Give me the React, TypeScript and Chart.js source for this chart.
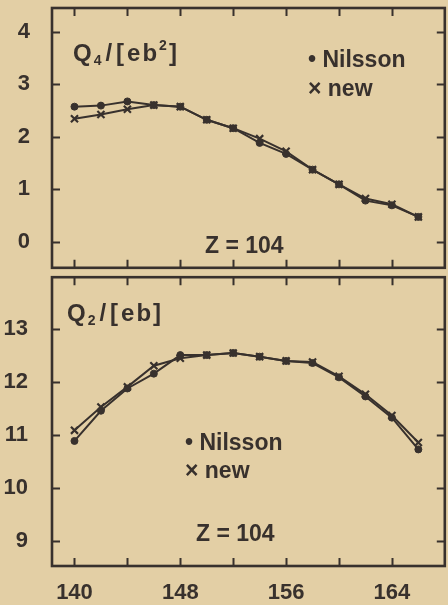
import React, { useEffect, useRef } from 'react';
import { Chart, registerables } from 'chart.js';

Chart.register(...registerables);

// ---------- data ----------
const massNumbers = [140, 142, 144, 146, 148, 150, 152, 154, 156, 158, 160, 162, 164, 166];
const q4Nilsson = [2.57, 2.59, 2.67, 2.6, 2.57, 2.32, 2.16, 1.88, 1.67, 1.37, 1.09, 0.78, 0.69, 0.47];
const q4New = [2.34, 2.42, 2.52, 2.6, 2.57, 2.32, 2.16, 1.96, 1.72, 1.37, 1.09, 0.82, 0.71, 0.47];
const q2Nilsson = [10.88, 11.45, 11.87, 12.15, 12.5, 12.5, 12.54, 12.47, 12.39, 12.35, 12.08, 11.72, 11.32, 10.72];
const q2New = [11.08, 11.52, 11.9, 12.3, 12.44, 12.5, 12.54, 12.47, 12.39, 12.37, 12.1, 11.76, 11.36, 10.85];
const xTickMarks = [140, 144, 148, 152, 156, 160, 164];
const xTickLabels = [140, 148, 156, 164];
const q4TickValues = [0, 1, 2, 3, 4];
const q2TickValues = [9, 10, 11, 12, 13];

// ---------- style ----------
const INK = '#38312d';
const PAPER = '#e3cfa5';
const FONT = "'Liberation Sans', Arial, sans-serif";
const CANVAS_W = 452;

type Annot = (ctx: CanvasRenderingContext2D) => void;

function drawQ(ctx: CanvasRenderingContext2D, x: number, base: number, sub: string, sup: string | null) {
  let cx = x;
  const put = (t: string, size: number, dy: number, gap: number) => {
    ctx.font = `bold ${size}px ${FONT}`;
    ctx.fillText(t, cx, base + dy);
    cx += ctx.measureText(t).width + gap;
  };
  put('Q', 24, 0, 2);
  put(sub, 14, 4, 4);
  put('/', 24, 0, 4);
  put('[', 24, 0, 3);
  put('e', 24, 0, 2);
  put('b', 24, 0, 2);
  if (sup) put(sup, 14, -11, 2);
  put(']', 24, 0, 0);
}

function drawText(ctx: CanvasRenderingContext2D, t: string, x: number, base: number, size = 23) {
  ctx.font = `bold ${size}px ${FONT}`;
  ctx.fillText(t, x, base);
}

function makeConfig(p: {
  nilsson: number[];
  neu: number[];
  yMin: number;
  yMax: number;
  yTicks: number[];
  showX: boolean;
  padding: { top: number; right: number; bottom: number; left: number };
  xAxisHeight: number;
  yLabelPad: number;
  annotate: Annot;
}): any {
  const tickFont = { family: FONT, size: 22, weight: 'bold' as const };
  const framePlugin = {
    id: 'frame',
    afterDraw(chart: any) {
      const { ctx, chartArea: a, scales } = chart;
      const xs = scales.x;
      const ys = scales.y;
      ctx.save();
      ctx.strokeStyle = INK;
      ctx.lineWidth = 2.6;
      ctx.strokeRect(a.left, a.top, a.right - a.left, a.bottom - a.top);
      ctx.lineWidth = 2;
      const L = 8;
      ctx.beginPath();
      for (const v of p.yTicks) {
        const py = Math.round(ys.getPixelForValue(v)) + 0.5;
        ctx.moveTo(a.left, py);
        ctx.lineTo(a.left + L, py);
        ctx.moveTo(a.right - L, py);
        ctx.lineTo(a.right, py);
      }
      for (const v of xTickMarks) {
        const px = Math.round(xs.getPixelForValue(v)) + 0.5;
        ctx.moveTo(px, a.top);
        ctx.lineTo(px, a.top + L);
        ctx.moveTo(px, a.bottom - L);
        ctx.lineTo(px, a.bottom);
      }
      ctx.stroke();
      ctx.fillStyle = INK;
      ctx.textBaseline = 'alphabetic';
      ctx.textAlign = 'left';
      p.annotate(ctx);
      ctx.restore();
    },
  };

  return {
    type: 'line',
    data: {
      labels: massNumbers,
      datasets: [
        {
          label: 'Nilsson',
          data: massNumbers.map((m, i) => ({ x: m, y: p.nilsson[i] })),
          borderColor: INK,
          backgroundColor: INK,
          borderWidth: 2,
          pointStyle: 'circle',
          pointRadius: 3.5,
          pointBorderWidth: 1,
          tension: 0,
        },
        {
          label: 'new',
          data: massNumbers.map((m, i) => ({ x: m, y: p.neu[i] })),
          borderColor: INK,
          backgroundColor: INK,
          borderWidth: 2,
          pointStyle: 'crossRot',
          pointRadius: 5,
          pointBorderWidth: 2.2,
          tension: 0,
        },
      ],
    },
    options: {
      animation: false,
      responsive: false,
      devicePixelRatio: 1,
      layout: { padding: p.padding },
      plugins: { legend: { display: false }, tooltip: { enabled: false } },
      scales: {
        x: {
          type: 'linear',
          min: 138.3,
          max: 168,
          display: p.showX,
          grid: { display: false },
          border: { display: false },
          afterBuildTicks: (s: any) => {
            s.ticks = xTickLabels.map((v) => ({ value: v }));
          },
          afterFit: (s: any) => {
            s.height = p.xAxisHeight;
            s.paddingLeft = 0;
            s.paddingRight = 0;
          },
          ticks: {
            font: tickFont,
            color: INK,
            padding: 6,
            maxRotation: 0,
            autoSkip: false,
            callback: (v: any) => String(v),
          },
        },
        y: {
          type: 'linear',
          min: p.yMin,
          max: p.yMax,
          grid: { display: false },
          border: { display: false },
          afterBuildTicks: (s: any) => {
            s.ticks = p.yTicks.map((v) => ({ value: v }));
          },
          afterFit: (s: any) => {
            s.width = 52;
            s.paddingTop = 0;
            s.paddingBottom = 0;
          },
          ticks: {
            font: tickFont,
            color: INK,
            padding: p.yLabelPad,
            callback: (v: any) => String(v),
          },
        },
      },
    },
    plugins: [framePlugin],
  };
}

function Panel(props: { top: number; height: number; config: any }) {
  const ref = useRef<HTMLCanvasElement | null>(null);
  useEffect(() => {
    if (!ref.current) return;
    const chart = new Chart(ref.current, props.config);
    return () => chart.destroy();
  }, []);
  return (
    <canvas
      ref={ref}
      width={CANVAS_W}
      height={props.height}
      style={{ position: 'absolute', left: 0, top: props.top, width: CANVAS_W, height: props.height }}
    />
  );
}

const topConfig = makeConfig({
  nilsson: q4Nilsson,
  neu: q4New,
  yMin: -0.5,
  yMax: 4.45,
  yTicks: q4TickValues,
  showX: false,
  padding: { top: 8, right: 2, bottom: 3, left: 0 },
  xAxisHeight: 0,
  yLabelPad: 14,
  annotate: (ctx) => {
    drawQ(ctx, 73, 61, '4', '2');
    drawText(ctx, '• Nilsson', 308, 67);
    drawText(ctx, '× new', 308, 96);
    drawText(ctx, 'Z = 104', 205, 253);
  },
});

const bottomConfig = makeConfig({
  nilsson: q2Nilsson,
  neu: q2New,
  yMin: 8.52,
  yMax: 13.97,
  yTicks: q2TickValues,
  showX: true,
  padding: { top: 2, right: 2, bottom: 0, left: 0 },
  xAxisHeight: 39,
  yLabelPad: 16,
  annotate: (ctx) => {
    drawQ(ctx, 67, 51, '2', null);
    drawText(ctx, '• Nilsson', 185, 180);
    drawText(ctx, '× new', 185, 208);
    drawText(ctx, 'Z = 104', 196, 271);
  },
});

export default function App() {
  return (
    <div
      style={{
        position: 'absolute',
        left: 0,
        top: 0,
        width: 448,
        height: 605,
        overflow: 'hidden',
        background: PAPER,
      }}
    >
      <Panel top={0} height={275} config={topConfig} />
      <Panel top={270} height={335} config={bottomConfig} />
    </div>
  );
}
